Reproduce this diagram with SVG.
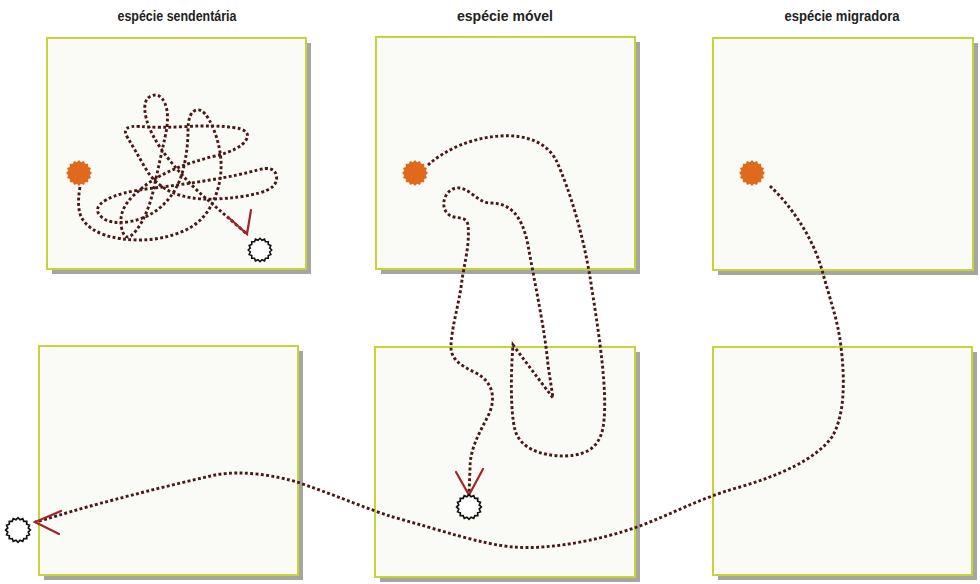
<svg xmlns="http://www.w3.org/2000/svg" width="980" height="584" viewBox="0 0 980 584">
<style>
.shadow{fill:#a6a6a0}
.box{fill:#fafbf6;stroke:#c6d43a;stroke-width:2}
.title{font-family:"Liberation Sans",Arial,sans-serif;font-weight:bold;font-size:15.5px;fill:#222;text-anchor:middle}
.trail{fill:none;stroke:#4a1818;stroke-width:2.9;stroke-dasharray:2.9 2.4}
.arrow{fill:none;stroke:#a3232a;stroke-width:2.2;stroke-linecap:round}
.start{fill:#e0691c}
.end{fill:#ffffff;stroke:#111;stroke-width:1.8}
</style>
<defs>
<polygon id="gear" points="13,0 10.79,2.15 12.01,4.97 9.15,6.11 9.19,9.19 6.11,9.15 4.97,12.01 2.15,10.79 0,13 -2.15,10.79 -4.97,12.01 -6.11,9.15 -9.19,9.19 -9.15,6.11 -12.01,4.97 -10.79,2.15 -13,0 -10.79,-2.15 -12.01,-4.97 -9.15,-6.11 -9.19,-9.19 -6.11,-9.15 -4.97,-12.01 -2.15,-10.79 0,-13 2.15,-10.79 4.97,-12.01 6.11,-9.15 9.19,-9.19 9.15,-6.11 12.01,-4.97 10.79,-2.15"/>
</defs>
<rect width="980" height="584" fill="#ffffff"/>

<g id="titles">
<text class="title" x="177" y="21" textLength="119" lengthAdjust="spacingAndGlyphs">espécie sendentária</text>
<text class="title" x="505" y="21" textLength="96" lengthAdjust="spacingAndGlyphs">espécie móvel</text>
<text class="title" x="842" y="21" textLength="115" lengthAdjust="spacingAndGlyphs">espécie migradora</text>
</g>

<g id="box-top-left"><rect class="shadow" x="52" y="43" width="259" height="231"/><rect class="box" x="47" y="38" width="259" height="231"/></g>
<g id="box-top-middle"><rect class="shadow" x="381" y="42" width="259" height="232"/><rect class="box" x="376" y="37" width="259" height="232"/></g>
<g id="box-top-right"><rect class="shadow" x="718" y="43" width="260" height="232"/><rect class="box" x="713" y="38" width="260" height="232"/></g>
<g id="box-bottom-left"><rect class="shadow" x="44" y="351" width="259" height="229"/><rect class="box" x="39" y="346" width="259" height="229"/></g>
<g id="box-bottom-middle"><rect class="shadow" x="380" y="352" width="260" height="230"/><rect class="box" x="375" y="347" width="260" height="230"/></g>
<g id="box-bottom-right"><rect class="shadow" x="718" y="352" width="259" height="228"/><rect class="box" x="713" y="347" width="259" height="228"/></g>

<g id="connectors">
<path id="trail-sedentary" class="trail" d="M80,187 Q76,210 83,220 Q90,230 105,235 Q120,240 140,240 Q160,240 180,232.5 Q200,225 210,207.5 Q220,190 221,170 Q222,150 213.5,129 Q205,108 196.5,110 Q188,112 188,131 Q188,150 183,170 Q178,190 164,204 Q150,218 130,221.5 Q110,225 101,216.5 Q92,208 106,200 Q120,192 150,188.5 Q180,185 210,180 Q240,175 257.5,170 Q275,165 276.5,176.5 Q278,188 259,193 Q240,198 215,199 Q190,200 172.5,192.5 Q155,185 145,167.5 Q135,150 127.5,137.5 Q120,125 140,126.5 Q160,128 187.5,126.5 Q215,125 233.5,127.5 Q252,130 246,140 Q240,150 215,156 Q190,162 170,171 Q150,180 134,195 Q118,210 121.5,227.5 Q125,245 136.5,230 Q148,215 154,187.5 Q160,160 165,137.5 Q170,115 165,103.5 Q160,92 151,96 Q142,100 146,117.5 Q150,135 167.5,157.5 Q185,180 205,197.5 Q225,215 247,234"/>
<path id="trail-mobile" class="trail" d="M428,165 C445,150 470,138 500,136 C530,134 548,145 556,160 C570,190 585,240 592,290 C600,340 607,390 604,420 C602,445 590,455 565,456 C540,456 520,448 515,430 C510,410 511,370 513,345 L553,398 L548,365 C545,330 535,285 528,245 C522,215 510,203 490,203 C478,203 468,186 456,188 C445,190 440,205 447,213 C454,221 466,214 468,225 C470,245 464,265 462,280 C459,305 452,325 451,345 C450,360 462,366 476,373 C493,382 496,398 489,414 C480,432 470,448 470,468 L469,495"/>
<path id="trail-migratory" class="trail" d="M770,186 C790,205 812,235 822,270 C830,300 838,320 841,347 C845,380 845,415 832,437 C815,460 780,475 740,487 C700,498 670,515 637,527 C600,540 550,550 513,547 C480,544 440,530 393,517 C370,510 340,497 300,483 C275,475 240,470 215,475 C170,485 120,498 87,507 C65,513 48,519 35,522"/>
<path class="arrow" d="M228,217 L247,234 L251,210"/>
<path class="arrow" d="M456,472 L469,495 L483,469"/>
<path class="arrow" d="M61,511 L35,522 L59,534"/>
</g>

<g id="start-sedentary"><use href="#gear" class="start" transform="translate(79,173)"/></g>
<g id="start-mobile"><use href="#gear" class="start" transform="translate(415,173)"/></g>
<g id="start-migratory"><use href="#gear" class="start" transform="translate(752,173)"/></g>
<g id="end-sedentary"><use href="#gear" class="end" transform="translate(260,250) scale(0.9)"/></g>
<g id="end-mobile"><use href="#gear" class="end" transform="translate(469,507) scale(0.95)"/></g>
<g id="end-migratory"><use href="#gear" class="end" transform="translate(18,530) scale(0.95)"/></g>
</svg>
